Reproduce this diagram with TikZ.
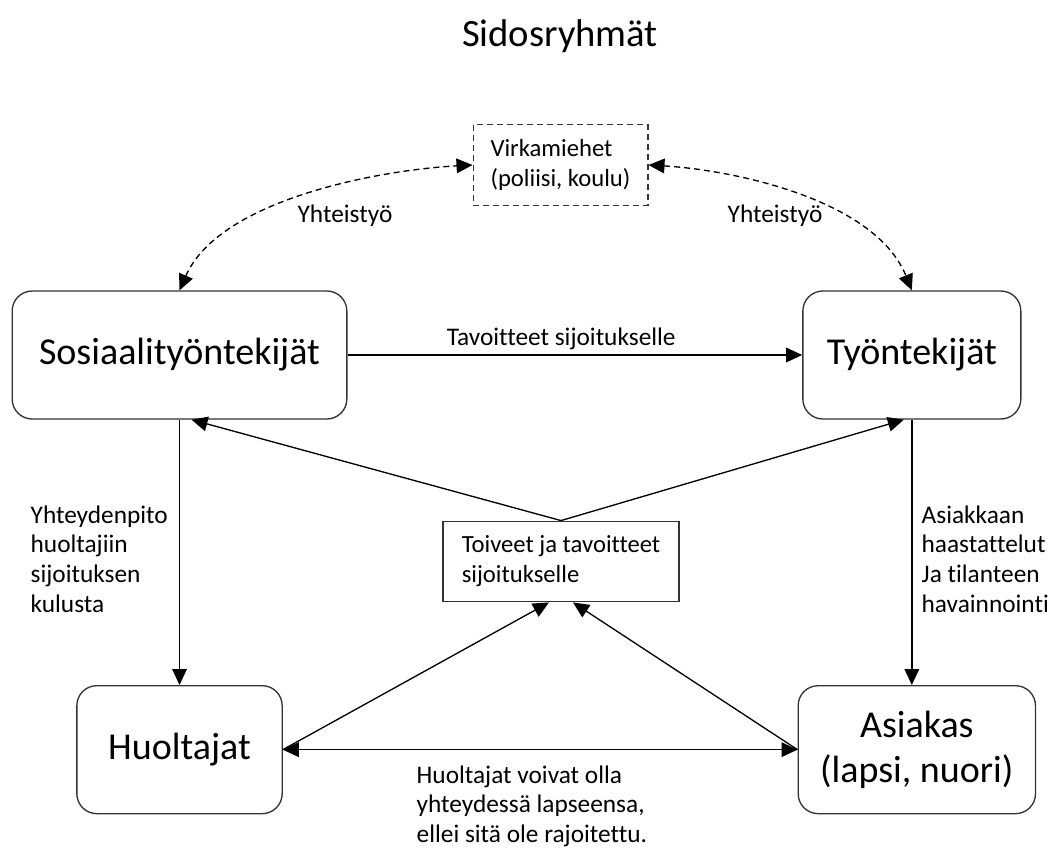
\documentclass[tikz,border=0pt]{standalone}
\usepackage{fontspec}
\setmainfont[Ligatures=NoCommon]{Carlito}
\usetikzlibrary{arrows.meta,positioning}

\begin{document}
\begin{tikzpicture}[
  x=0.75pt, y=-0.75pt,
  >={Triangle[length=12pt,width=11pt]},
  line width=1pt,
  group/.style={rectangle, rounded corners=15pt, draw=black!80, fill=white,
                minimum height=96pt, align=center, inner sep=0pt,
                font=\fontsize{28.5}{34}\selectfont},
  note/.style={rectangle, draw=black!80, align=left, inner sep=11pt,
               font=\fontsize{18.5}{22.5}\selectfont},
  lbl/.style={align=left, inner sep=0pt, font=\fontsize{19}{22.3}\selectfont},
  coop/.style={<->, dash pattern=on 4.5pt off 3pt}
]
\useasboundingbox (0,0) rectangle (1060,853);

% --- Title ---
\node[font=\fontsize{29}{34}\selectfont] (TITLE) at (560,36) {Sidosryhmät};

% --- Groups ---
\node[group, minimum width=251pt] (SOS) at (179.5,355) {Sosiaalityöntekijät};
\node[group, minimum width=163.5pt, right=341pt of SOS] (TYO) {Työntekijät};
\node[group, minimum width=154pt, below=199pt of SOS] (HUOL) {Huoltajat};
\node[group, minimum width=178pt, right=386pt of HUOL] (ASIAKAS) {Asiakas\\(lapsi, nuori)};

% --- Boxes ---
\node[note, dash pattern=on 4.5pt off 3pt, minimum width=131pt, minimum height=57pt]
  (VIRK) at (560.5,165) {Virkamiehet\\(poliisi, koulu)};
\node[note, minimum width=177pt, minimum height=56pt]
  (TOIVEET) at (561,561.5) {Toiveet ja tavoitteet\\sijoitukselle};

% --- Labels ---
\node[lbl, anchor=north west] (YHTPITO) at (30,505) {Yhteydenpito\\huoltajiin\\sijoituksen\\kulusta};
\node[lbl, anchor=north west] (HAAST) at (921,505) {Asiakkaan\\haastattelut\\Ja tilanteen\\havainnointi};
\node[lbl, anchor=north west] (YHTEYS) at (416,765) {Huoltajat voivat olla\\yhteydessä lapseensa,\\ellei sitä ole rajoitettu.};
\node[lbl] (COOPL) at (345,216) {Yhteistyö};
\node[lbl] (COOPR) at (775,216) {Yhteistyö};

% --- Cooperation ---
\draw[coop] (SOS.north) .. controls +(40,-91) and +(-93,5) .. (VIRK.west);
\draw[coop] (VIRK.east) .. controls +(85,5) and +(-37,-91) .. (TYO.north);

% --- Transitions ---
\path[->]
  (SOS) edge node[lbl, above, inner sep=3pt, pos=0.47] (TAV) {Tavoitteet sijoitukselle} (TYO)
  (SOS.south) edge (SOS.south |- HUOL.north)
  (TYO.south) edge (TYO.south |- ASIAKAS.north)

  (TOIVEET.north) edge ([xshift=9pt]SOS.south)
  (TOIVEET.north) edge ([xshift=-6pt]TYO.south)

  (HUOL.east) edge ([xshift=-9pt]TOIVEET.south)
  (ASIAKAS.west) edge ([xshift=9pt]TOIVEET.south)
  (HUOL) edge[<->] (ASIAKAS);

\end{tikzpicture}
\end{document}
